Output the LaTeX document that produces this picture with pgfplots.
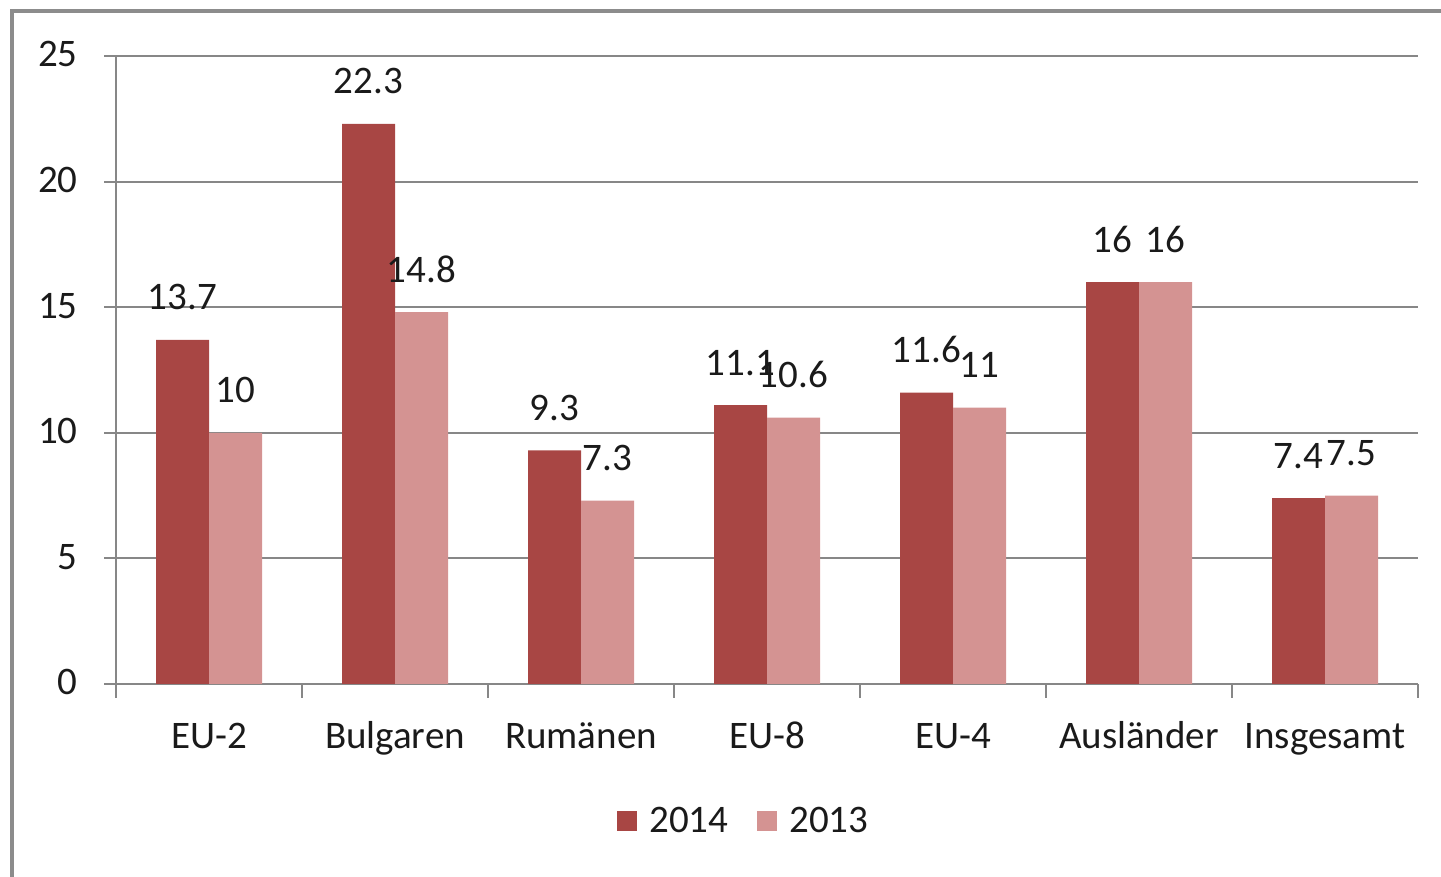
\documentclass[border=0pt]{standalone}
\usepackage{pgfplots}
\pgfplotsset{compat=1.18}
\usepackage{fontspec}
\setmainfont{Carlito}
\definecolor{darkred}{HTML}{A84644}
\definecolor{lightred}{HTML}{D49392}
\definecolor{gridgray}{HTML}{878787}
\definecolor{framegray}{HTML}{8C8C8C}
\definecolor{txt}{HTML}{1A1A1A}
\begin{document}
\begin{tikzpicture}
\path[use as bounding box] (0,0) rectangle (720.5pt,438.5pt);
\draw[framegray, line width=2pt] (6pt,0) -- (6pt,432.75pt) -- (720.5pt,432.75pt);
\begin{axis}[
  at={(58pt,96.5pt)}, anchor=south west,
  scale only axis, width=651pt, height=314pt,
  font=\fontsize{19.5}{23}\selectfont\color{txt},
  /pgf/number format/assume math mode=true,
  ybar=0pt, bar width=26.5pt,
  xmin=-0.5, xmax=6.5, ymin=0, ymax=25,
  enlargelimits=false,
  axis lines*=left,
  axis line style={gridgray, line width=1pt},
  tick align=outside,
  xtick={0,...,6},
  xticklabels={EU-2,Bulgaren,Rumänen,EU-8,EU-4,Ausländer,Insgesamt},
  minor xtick={-0.5,0.5,...,6.5},
  major x tick style={draw=none},
  minor x tick style={gridgray, line width=1pt},
  minor tick length=7pt,
  major tick length=6pt,
  ytick={0,5,...,25},
  major y tick style={gridgray, line width=1pt},
  ymajorgrids,
  grid style={gridgray, line width=1pt},
  xticklabel style={anchor=base, inner sep=0pt, yshift=-26.5pt},
  yticklabel style={anchor=base east, inner sep=0pt, xshift=-13pt, yshift=-5.5pt},
  nodes near coords,
  every node near coord/.append style={anchor=base, inner sep=0pt, yshift=15pt, font=\fontsize{19.5}{23}\selectfont\color{txt}},
  legend columns=2,
  legend style={at={(0.483,-0.218)}, anchor=center, draw=none, fill=none,
    font=\fontsize{19.5}{23}\selectfont\color{txt},
    /tikz/every odd column/.append style={column sep=4pt},
    /tikz/every even column/.append style={column sep=12.5pt}},
  legend image code/.code={\fill[#1] (0pt,-5pt) rectangle (10pt,5pt);},
]
\addplot[fill=darkred, draw=none] coordinates {(0,13.7) (1,22.3) (2,9.3) (3,11.1) (4,11.6) (5,16) (6,7.4)};
\addplot[fill=lightred, draw=none] coordinates {(0,10) (1,14.8) (2,7.3) (3,10.6) (4,11) (5,16) (6,7.5)};
\legend{2014,2013}
\end{axis}
\end{tikzpicture}
\end{document}
